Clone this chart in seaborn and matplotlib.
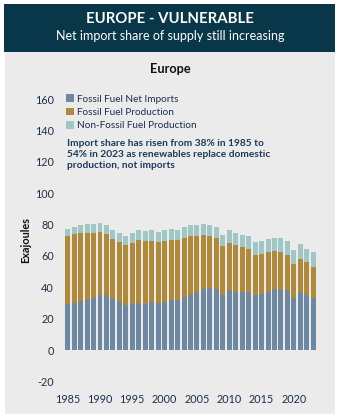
import matplotlib
matplotlib.use("Agg")
import matplotlib.pyplot as plt
from matplotlib.patches import Rectangle, Patch
import seaborn as sns
import pandas as pd
import numpy as np

years = list(range(1985, 2024))
net_imports = [29.3, 29.9, 31.2, 32.0, 33.1, 35.0, 34.8, 32.5, 31.0, 28.6,
               29.3, 29.7, 29.1, 30.8, 29.7, 30.8, 31.8, 31.8, 33.7, 34.8,
               36.9, 38.6, 39.5, 38.6, 35.2, 38.0, 37.3, 36.9, 36.9, 34.8,
               35.6, 37.1, 38.6, 38.2, 38.0, 33.1, 36.9, 34.8, 33.1]
fossil_top = [72.6, 73.8, 74.9, 74.7, 74.7, 75.1, 73.8, 70.7, 68.7, 66.8,
              68.1, 70.0, 69.4, 69.4, 69.0, 69.4, 70.0, 70.0, 71.7, 72.4,
              72.6, 73.2, 72.6, 71.7, 66.4, 68.5, 66.8, 65.6, 64.1, 60.7,
              61.1, 62.4, 63.2, 62.4, 60.7, 54.7, 57.9, 55.8, 52.6]
total_top = [77.4, 78.7, 80.0, 80.2, 80.2, 80.8, 79.6, 76.4, 74.7, 72.8,
             74.5, 76.4, 75.7, 76.2, 75.3, 76.4, 77.0, 76.8, 78.5, 79.4,
             80.0, 80.6, 80.0, 78.7, 73.6, 76.2, 74.3, 73.6, 72.4, 69.0,
             69.6, 70.7, 71.7, 71.3, 69.6, 63.7, 67.3, 64.7, 62.2]
fossil_production = [round(t - b, 1) for t, b in zip(fossil_top, net_imports)]
non_fossil_production = [round(t - f, 1) for t, f in zip(total_top, fossil_top)]

series_names = ["Fossil Fuel Net Imports", "Fossil Fuel Production", "Non-Fossil Fuel Production"]
colors = ["#6f88a1", "#b08a3a", "#9ec7c6"]
y_ticks = list(range(-20, 161, 20))
x_tick_years = [1985, 1990, 1995, 2000, 2005, 2010, 2015, 2020]

navy = "#1d2f4d"
plt.rcParams['font.family'] = ['Lato', 'DejaVu Sans']

df = pd.DataFrame({"year": [str(y) for y in years],
                   "imports": net_imports,
                   "fossil": fossil_production,
                   "nonfossil": non_fossil_production})
df["c1"] = df["imports"]
df["c2"] = df["c1"] + df["fossil"]
df["c3"] = df["c2"] + df["nonfossil"]

fig = plt.figure(figsize=(3.4, 4.19), dpi=100)
W, H = 340, 419

def fx(px):
    return px / W

def fy(py):
    return 1 - py / H

# header and panel
fig.patches.append(Rectangle((fx(4), fy(52)), fx(331), 48 / H, transform=fig.transFigure,
                             facecolor="#08374a", edgecolor="none", zorder=-2))
fig.patches.append(Rectangle((fx(5), fy(414)), fx(330), 362 / H, transform=fig.transFigure,
                             facecolor="#ebebeb", edgecolor="none", zorder=-2))
fig.text(0.5, fy(19), "EUROPE - VULNERABLE", ha="center", va="center", color="white",
         fontsize=10.7, fontweight="bold")
fig.text(0.5, fy(35.5), "Net import share of supply still increasing", ha="center", va="center",
         color="white", fontsize=9.0)
fig.text(0.5, fy(69), "Europe", ha="center", va="center", color="#111111",
         fontsize=9.2, fontweight="bold")

ax = fig.add_axes([fx(60), fy(381.4), fx(260), (381.4 - 99) / H])
ax.set_facecolor("none")
ax.set_zorder(1)

for col, c in zip(["c3", "c2", "c1"], colors[::-1]):
    sns.barplot(data=df, x="year", y=col, color=c, saturation=1, width=0.77,
                linewidth=0, ax=ax, zorder=2)

ax.set_ylim(-20, 160)
ax.set_xlim(-1.19, 39.04)
ax.set_yticks(y_ticks)
ax.set_yticklabels([str(v) for v in y_ticks])
ax.set_xticks([years.index(y) for y in x_tick_years])
ax.set_xticklabels([str(y) for y in x_tick_years])
ax.tick_params(axis="both", length=0, labelsize=7.8, labelcolor=navy)
ax.tick_params(axis="y", pad=4.5)
ax.tick_params(axis="x", pad=9)
ax.set_xlabel("")
ax.set_ylabel("Exajoules", fontsize=7.8, fontweight="bold", color="#111111", labelpad=2.5)
for s in ax.spines.values():
    s.set_visible(False)
ax.grid(False)

handles = [Patch(facecolor=c, edgecolor="none") for c in colors]
leg = ax.legend(handles, series_names, loc="upper left",
                bbox_to_anchor=(fx(66), fy(94.5)), bbox_transform=fig.transFigure,
                frameon=False, fontsize=7.2, handlelength=0.75, handleheight=0.75,
                handletextpad=0.35, labelspacing=0.42, borderpad=0, borderaxespad=0)
for t in leg.get_texts():
    t.set_color(navy)

fig.text(fx(67), fy(138.5), "Import share has risen from 38% in 1985 to\n54% in 2023 as renewables replace domestic\nproduction, not imports",
         ha="left", va="top", color="#1c3a5c", fontsize=7.3, fontweight="bold",
         linespacing=1.32)

fig.savefig("out.png", dpi=100, facecolor="white")
